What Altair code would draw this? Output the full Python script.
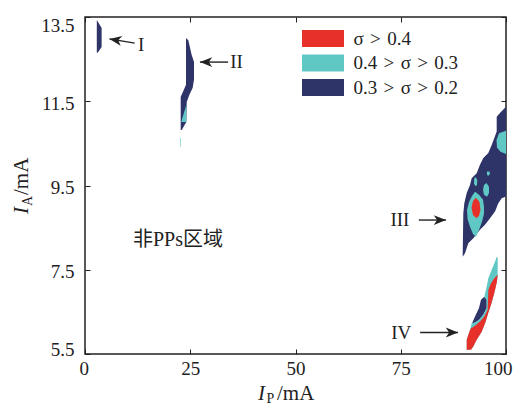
import math
import altair as alt
import pandas as pd

# ---- levels of sigma and their fill colours ----
SP = "\u2004"  # slightly wider space around the relation signs
LEVELS = [f"σ{SP}>{SP}0.4", f"0.4{SP}>{SP}σ{SP}>{SP}0.3", f"0.3{SP}>{SP}σ{SP}>{SP}0.2"]
COLORS = ["#e8302a", "#5fc8c4", "#2e3368"]

# ---- contour outlines, vertices as (I_P mA, I_A mA) ----
NAVY_I = [(2.8, 13.43), (3.95, 13.24), (3.95, 12.79), (3.0, 12.65), (2.8, 12.65)]
NAVY_II = [(23.99, 13.00), (24.54, 12.95), (25.34, 12.60), (25.89, 12.43), (25.89, 12.01),
           (25.58, 11.82), (24.77, 11.65), (24.16, 11.48), (24.06, 11.01), (23.52, 10.91),
           (22.97, 10.82), (22.73, 10.82), (22.73, 11.60), (23.99, 11.89)]
NAVY_III = [(100, 11.37), (98.57, 11.22), (97.79, 11.13), (97.79, 10.78), (96.60, 10.46),
            (95.80, 10.27), (94.61, 10.15), (93.82, 9.99), (93.04, 9.79), (91.85, 9.67),
            (91.45, 9.51), (90.67, 9.32), (90.10, 9.08), (89.86, 8.84), (89.71, 7.81),
            (90.26, 7.89), (91.04, 8.13), (92.23, 8.25), (93.82, 8.45), (95.01, 8.57),
            (96.20, 8.72), (97.39, 8.88), (98.17, 9.08), (98.98, 9.20), (100, 9.24)]
NAVY_IV = [(94.85, 6.86), (95.42, 6.79), (95.42, 6.59), (94.61, 6.43), (93.59, 6.31),
           (92.64, 6.25), (91.90, 6.22), (92.64, 6.39), (93.59, 6.59), (94.06, 6.79)]

CYAN_II = [(24.06, 11.41), (24.06, 11.01), (22.85, 11.01)]
CYAN_II_TRACE = [(22.58, 10.63), (22.72, 10.63), (22.72, 10.42), (22.58, 10.42)]
CYAN_III_EDGE = [(100, 10.80), (98.34, 10.74), (97.74, 10.58), (97.86, 10.40), (98.69, 10.30),
                 (100, 10.25)]
CYAN_III_DOT_A = [(95.49, 9.83), (96.08, 9.83), (96.20, 9.78), (95.84, 9.73), (95.49, 9.75)]
CYAN_III_DOT_B = [(92.76, 9.70), (93.18, 9.63), (93.11, 9.51), (92.76, 9.48), (92.40, 9.54),
                  (92.45, 9.66)]
CYAN_III_BLOB = [(95.37, 9.56), (95.96, 9.47), (95.96, 9.32), (95.49, 9.23), (94.77, 9.28),
                 (94.54, 9.40), (94.77, 9.51)]
CYAN_III_CORE = [(92.64, 9.35), (93.59, 9.28), (94.54, 9.16), (94.77, 8.99), (94.77, 8.83),
                 (94.30, 8.64), (93.59, 8.45), (92.87, 8.28), (92.16, 8.35), (91.45, 8.52),
                 (90.86, 8.71), (90.74, 8.92), (91.21, 9.11), (91.92, 9.25)]
CYAN_IV = [(97.79, 7.81), (98.03, 7.78), (98.03, 7.33), (97.79, 7.19), (97.22, 6.95),
           (96.44, 6.67), (95.80, 6.48), (95.18, 6.27), (94.23, 6.03), (93.04, 5.84),
           (92.23, 5.68), (91.69, 5.60), (90.67, 5.60), (90.67, 5.84), (91.45, 6.07),
           (91.85, 6.23), (92.64, 6.25), (93.59, 6.31), (94.61, 6.43), (95.42, 6.59),
           (95.42, 6.79), (94.85, 6.86), (95.42, 7.10), (95.80, 7.30), (96.60, 7.50),
           (97.39, 7.69)]

RED_III = [(92.87, 9.21), (93.71, 9.11), (93.94, 8.92), (93.59, 8.78), (93.0, 8.72),
           (92.16, 8.80), (91.81, 8.97), (92.16, 9.13)]
RED_IV = [(98.03, 7.38), (97.79, 7.19), (97.22, 6.95), (96.44, 6.67), (95.80, 6.48),
          (95.18, 6.27), (94.23, 6.03), (93.04, 5.84), (92.23, 5.68), (91.69, 5.60),
          (90.67, 5.60), (90.67, 5.84), (91.45, 6.07), (91.69, 6.11), (92.64, 6.17),
          (93.82, 6.27), (94.85, 6.39), (95.65, 6.55), (95.80, 7.02), (96.44, 7.18),
          (97.22, 7.30)]

# ---- region markers: label, arrow head, arrow tail ----
MARK_LABELS = ["I", "II", "III", "IV"]
MARK_LABEL_X = [13.35, 36.0, 74.8, 75.1]
MARK_LABEL_Y = [12.84, 12.42, 8.68, 6.0]
HEAD_X = [5.8, 27.3, 85.75, 88.6]
HEAD_Y = [12.98, 12.43, 8.68, 6.01]
TAIL_X = [11.8, 34.0, 79.3, 79.6]
TAIL_Y = [12.88, 12.43, 8.68, 6.01]

NOTE_TEXT = "非PPs区域"
NOTE_X, NOTE_Y = 11.4, 8.2

X_TICKS = [0, 25, 50, 75, 100]
Y_TICKS = [5.5, 7.5, 9.5, 11.5, 13.5]

W, H = 421, 337
SERIF = "Liberation Serif"
INK = "#222222"

rows = []
groups = [
    (LEVELS[2], [NAVY_I, NAVY_II, NAVY_III, NAVY_IV]),
    (LEVELS[1], [CYAN_II, CYAN_II_TRACE, CYAN_III_EDGE, CYAN_III_DOT_A, CYAN_III_DOT_B,
                 CYAN_III_BLOB, CYAN_III_CORE, CYAN_IV]),
    (LEVELS[0], [RED_III, RED_IV]),
]
pid = 0
for level, shapes in groups:
    for pts in shapes:
        for i, (x, y) in enumerate(pts):
            rows.append({"level": level, "pid": pid, "i": i, "x": x, "y": y})
        pid += 1
poly_df = pd.DataFrame(rows)

xscale = alt.Scale(domain=[0, 100], nice=False, zero=False)
yscale = alt.Scale(domain=[5.5, 13.5], nice=False, zero=False)
fill_scale = alt.Scale(domain=LEVELS, range=COLORS)

legend = alt.Legend(
    title=None, orient="none", legendX=228.5, legendY=12,
    symbolType="M-2.47,-1L2.47,-1L2.47,1L-2.47,1Z", symbolSize=289,
    symbolStrokeWidth=0, symbolOpacity=1,
    labelFont=SERIF, labelFontSize=19, labelColor=INK, labelOffset=21,
    rowPadding=4.5, padding=0,
)

tick_common = dict(domain=False, grid=False, ticks=True, tickSize=5, offset=-5,
                   tickColor=INK, tickWidth=1)

x_bottom = alt.Axis(values=X_TICKS, labelFont=SERIF, labelFontSize=19, labelColor=INK,
                    labelPadding=5, labelFlush=True, labelFlushOffset=6, title=None,
                    **tick_common)
y_left = alt.Axis(values=Y_TICKS, labelFont=SERIF, labelFontSize=19, labelColor=INK,
                  labelPadding=11, labelFlush=True, labelFlushOffset=3, labelOffset=2,
                  format=".1f", title=None, **tick_common)
x_top = alt.Axis(values=X_TICKS, orient="top", labels=False, title=None, **tick_common)
y_right = alt.Axis(values=Y_TICKS, orient="right", labels=False, title=None, **tick_common)


def contour_layer(level, xaxis, yaxis):
    sub = poly_df[poly_df["level"] == level]
    return alt.Chart(sub).mark_line(filled=True, interpolate="linear", strokeWidth=0).encode(
        x=alt.X("x:Q", scale=xscale, axis=xaxis),
        y=alt.Y("y:Q", scale=yscale, axis=yaxis),
        color=alt.Color("level:N", scale=fill_scale, legend=legend),
        detail="pid:N",
        order="i:Q",
    )


navy = contour_layer(LEVELS[2], x_bottom, y_left)
cyan = contour_layer(LEVELS[1], x_top, y_right)
red = contour_layer(LEVELS[0], None, None)

arrow_df = pd.DataFrame({
    "label": MARK_LABELS, "lx": MARK_LABEL_X, "ly": MARK_LABEL_Y,
    "hx": HEAD_X, "hy": HEAD_Y, "tx": TAIL_X, "ty": TAIL_Y,
})
# screen-space direction of each arrow (degrees, clockwise) for rotating its head
px_per_x = W / 100.0
px_per_y = H / 8.0
arrow_df["ang"] = [
    (math.degrees(math.atan2(-(ty - hy) * px_per_y, (tx - hx) * px_per_x)) + 360) % 360
    for hx, hy, tx, ty in zip(HEAD_X, HEAD_Y, TAIL_X, TAIL_Y)
]

shafts = alt.Chart(arrow_df).mark_rule(color=INK, strokeWidth=1.4).encode(
    x=alt.X("hx:Q", scale=xscale, axis=None), y=alt.Y("hy:Q", scale=yscale, axis=None),
    x2="tx:Q", y2="ty:Q",
)
heads = alt.Chart(arrow_df).mark_point(
    shape="M0,0L2,-0.8L1.45,0L2,0.8Z", size=150, filled=True, color=INK, opacity=1,
    strokeWidth=0,
).encode(
    x=alt.X("hx:Q", scale=xscale, axis=None), y=alt.Y("hy:Q", scale=yscale, axis=None),
    angle=alt.Angle("ang:Q", scale=None),
)
labels = alt.Chart(arrow_df).mark_text(
    font=SERIF, fontSize=19, color=INK, align="center", baseline="middle",
).encode(
    x=alt.X("lx:Q", scale=xscale, axis=None), y=alt.Y("ly:Q", scale=yscale, axis=None),
    text="label:N",
)

note = alt.Chart(pd.DataFrame({"t": [NOTE_TEXT], "x": [NOTE_X], "y": [NOTE_Y]})).mark_text(
    font=f"{SERIF}, Noto Sans CJK SC", fontSize=20, color=INK, align="left", baseline="middle",
).encode(
    x=alt.X("x:Q", scale=xscale, axis=None), y=alt.Y("y:Q", scale=yscale, axis=None),
    text="t:N",
)

# axis titles with italic symbol and subscript
one = pd.DataFrame({"k": [0]})


def title_piece(text, x, y, size, italic=False, angle=0):
    kw = dict(text=text, font=SERIF, fontSize=size, color=INK, align="left",
              baseline="alphabetic")
    if italic:
        kw["fontStyle"] = "italic"
    if angle:
        kw["angle"] = angle
    return alt.Chart(one).mark_text(**kw).encode(x=alt.value(x), y=alt.value(y))


xt = [
    title_piece("I", 173, 382.5, 21, italic=True),
    title_piece("P", 181.5, 386, 14),
    title_piece("/mA", 192, 382.5, 21),
]
yt = [
    title_piece("I", -57, 197, 21, italic=True, angle=270),
    title_piece("A", -53.5, 189, 14, angle=270),
    title_piece("/mA", -57, 178, 21, angle=270),
]

chart = alt.layer(navy, cyan, red, shafts, heads, labels, note, *xt, *yt).resolve_axis(
    x="independent", y="independent"
).properties(
    width=W, height=H,
    autosize=alt.AutoSizeParams(type="none"),
    padding={"left": 85, "top": 17, "right": 7, "bottom": 51},
).configure_view(stroke=INK, strokeWidth=1.5)

chart.save("out.html", embed_options={"renderer": "svg", "actions": False})
